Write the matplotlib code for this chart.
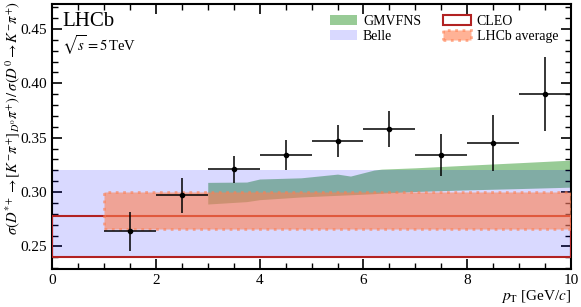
import numpy as np
import matplotlib
matplotlib.use("Agg")
import matplotlib.pyplot as plt
from matplotlib.patches import Rectangle, Patch
from matplotlib.ticker import MultipleLocator

plt.rcParams['font.family'] = ['Liberation Serif', 'DejaVu Serif']
plt.rcParams['mathtext.fontset'] = 'stix'

# LHCb points
pt = [1.5, 2.5, 3.5, 4.5, 5.5, 6.5, 7.5, 8.5, 9.5]
pt_err = [0.5] * 9
ratio = [0.264, 0.297, 0.321, 0.334, 0.347, 0.358, 0.334, 0.345, 0.390]
ratio_err = [0.018, 0.016, 0.0125, 0.014, 0.0145, 0.017, 0.0195, 0.026, 0.034]

# GMVFNS prediction band
gm_x = [3.0, 3.75, 4.0, 4.8, 5.5, 5.75, 6.2, 6.35, 7.0, 8.0, 9.0, 10.0]
gm_hi = [0.3089, 0.3092, 0.3120, 0.3131, 0.3165, 0.3147, 0.3202, 0.3211, 0.3223, 0.3247, 0.3270, 0.3294]
gm_lo = [0.2890, 0.2912, 0.2930, 0.2955, 0.2970, 0.2975, 0.2985, 0.2990, 0.3005, 0.3020, 0.3032, 0.3045]

# reference measurements (low, high)
belle = (0.240, 0.320)
cleo = (0.240, 0.278)
lhcb_avg = (0.266, 0.300)

green = (0.596, 0.796, 0.588)

fig = plt.figure(figsize=(5.81, 3.07), dpi=100)
ax = fig.add_axes([0.0895, 0.123, 0.8935, 0.864])

ax.fill_between(gm_x, gm_lo, gm_hi, color=green, lw=0, zorder=1)
ax.add_patch(Rectangle((0, belle[0]), 10, belle[1] - belle[0],
                       facecolor='blue', alpha=0.15, lw=0, zorder=2))
ax.add_patch(Rectangle((0, cleo[0]), 10, cleo[1] - cleo[0],
                       facecolor='none', edgecolor='firebrick', lw=1.5, zorder=3))
ax.add_patch(Rectangle((1, lhcb_avg[0]), 9, lhcb_avg[1] - lhcb_avg[0],
                       facecolor='coral', edgecolor='coral', alpha=0.6,
                       lw=2, ls=':', zorder=4))

ax.errorbar(pt, ratio, xerr=pt_err, yerr=ratio_err, fmt='o', color='black',
            ms=3, lw=1.1, capsize=0, zorder=6)

ax.set_xlim(0, 10)
ax.set_ylim(0.229, 0.473)
ax.xaxis.set_major_locator(MultipleLocator(2))
ax.xaxis.set_minor_locator(MultipleLocator(0.5))
ax.yaxis.set_minor_locator(MultipleLocator(0.01))
ax.set_yticks([0.25, 0.30, 0.35, 0.40, 0.45])
ax.set_yticklabels(['0.25', '0.30', '0.35', '0.40', '0.45'])
ax.tick_params(which='both', direction='in', top=True, right=True, labelsize=11)
ax.tick_params(which='major', length=7, width=1.2)
ax.tick_params(which='minor', length=4, width=1.0)
for s in ax.spines.values():
    s.set_linewidth(1.5)

ax.set_xlabel(r'$p_{\mathrm{T}}$ [GeV/$c$]', fontsize=11, loc='right', labelpad=1)
ax.set_ylabel(r'$\sigma(D^{*+}\to[K^{-}\pi^{+}]_{D^{0}}\pi^{+})\,/\,\sigma(D^{0}\to K^{-}\pi^{+})$',
              fontsize=10.5, loc='top')
ax.yaxis.set_label_coords(-0.057, 1.01)

ax.text(0.2, 0.466, 'LHCb', fontsize=15, va='top')
ax.text(0.2, 0.446, r'$\sqrt{s}=5\,$TeV', fontsize=10.5, va='top')

handles = [Patch(facecolor=green, lw=0),
           Patch(facecolor='blue', alpha=0.15, lw=0),
           Patch(facecolor='none', edgecolor='firebrick', lw=1.5),
           Patch(facecolor='coral', edgecolor='coral', alpha=0.6, lw=2, ls=':')]
labels = ['GMVFNS', 'Belle', 'CLEO', 'LHCb average']
ax.legend(handles, labels, ncol=2, frameon=False, fontsize=10,
          loc='upper right', bbox_to_anchor=(0.975, 0.96),
          borderpad=0, borderaxespad=0,
          handlelength=2.0, handleheight=0.75, columnspacing=1.6,
          labelspacing=0.15, handletextpad=0.4)

fig.savefig('out.png', dpi=100)
